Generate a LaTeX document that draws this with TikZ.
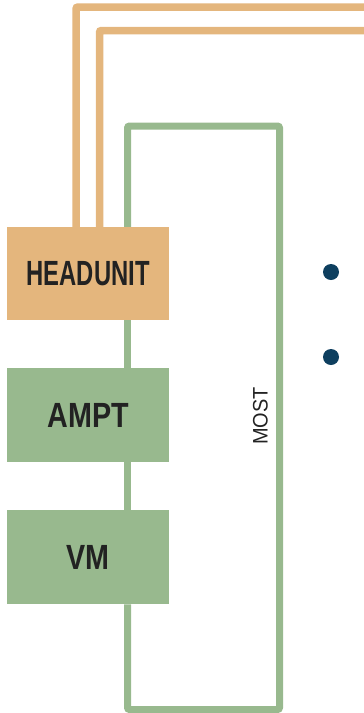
\documentclass[tikz,border=0pt]{standalone}
\usepackage{fontspec}
\setmainfont{Liberation Sans}
\usetikzlibrary{backgrounds}
\definecolor{orng}{RGB}{228,182,125}
\definecolor{grn}{RGB}{152,185,142}
\definecolor{navy}{RGB}{14,63,95}
\definecolor{ink}{RGB}{34,34,34}
\tikzset{
  unitbox/.style={draw=none, minimum width=162pt, minimum height=94pt, inner sep=0pt, anchor=north west, text=ink,
     font=\fontsize{35}{35}\selectfont\bfseries},
  bus/.style={draw=grn, line width=7pt, rounded corners=2pt},
  obus/.style={draw=orng, line width=7.5pt, rounded corners=2pt},
  bullet/.style={circle, fill=navy, minimum size=16pt, inner sep=0pt},
}
\begin{document}
\begin{tikzpicture}[x=1pt,y=-1pt]
\useasboundingbox (0,0) rectangle (364,713);
\coordinate (gx) at (127.5,0);
\coordinate (gtr) at (279.5,126);
\coordinate (gbr) at (279.5,709.5);
\coordinate (ox1) at (76,0);
\coordinate (ox2) at (99.5,0);
\coordinate (oe1) at (364,7);
\coordinate (oe2) at (364,30.5);
% boxes
\node[unitbox, fill=orng, minimum height=93pt] (hu) at (7,227) {\scalebox{0.68}[1]{HEADUNIT}};
\node[unitbox, fill=grn] (ampt) at (7,368) {\scalebox{0.82}[1]{AMPT}};
\node[unitbox, fill=grn] (vm) at (7,510) {\scalebox{0.82}[1]{VM}};
% connectors
\begin{scope}[on background layer]
\draw[bus] (hu.north -| gx) |- (gtr) -- (gbr) -| (vm.south -| gx);
\draw[bus] (hu.south -| gx) -- (ampt.north -| gx);
\draw[bus] (ampt.south -| gx) -- (vm.north -| gx);
\draw[obus] (hu.north -| ox1) |- (oe1);
\draw[obus] (hu.north -| ox2) |- (oe2);
\end{scope}
% label
\node[rotate=90, text=ink, font=\fontsize{21}{21}\selectfont, inner sep=0pt] (most) at (260.5,416) {\scalebox{0.95}[1]{MOST}};
% bullets
\node[bullet] (b1) at (331,272) {};
\node[bullet] (b2) at (331,357) {};
\end{tikzpicture}
\end{document}
